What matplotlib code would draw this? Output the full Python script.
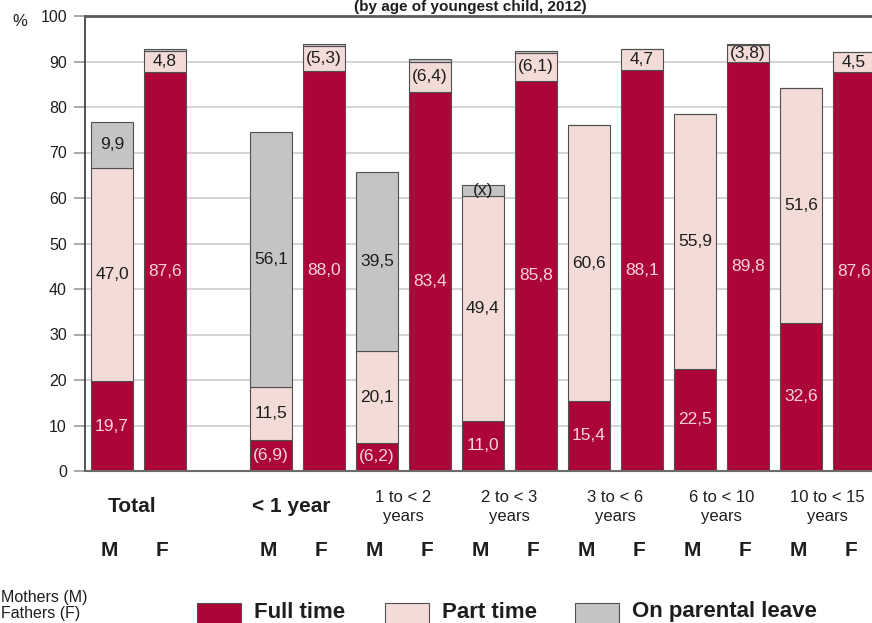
import matplotlib
matplotlib.use("Agg")
import matplotlib.pyplot as plt
from matplotlib.patches import Rectangle
from matplotlib.transforms import blended_transform_factory

plt.rcParams['font.family'] = ['Liberation Sans', 'DejaVu Sans']

# ---- data: employment of mothers (M) and fathers (F), by age of youngest child, 2012 (%)
groups = ["Total", "< 1 year", "1 to < 2\nyears", "2 to < 3\nyears",
          "3 to < 6\nyears", "6 to < 10\nyears", "10 to < 15\nyears"]
group_bold = [True, True, False, False, False, False, False]

mothers_full = [19.7, 6.9, 6.2, 11.0, 15.4, 22.5, 32.6]
mothers_part = [47.0, 11.5, 20.1, 49.4, 60.6, 55.9, 51.6]
mothers_leave = [9.9, 56.1, 39.5, 2.5, 0.0, 0.0, 0.0]

fathers_full = [87.6, 88.0, 83.4, 85.8, 88.1, 89.8, 87.6]
fathers_part = [4.8, 5.3, 6.4, 6.1, 4.7, 3.8, 4.5]
fathers_leave = [0.4, 0.5, 0.7, 0.4, 0.0, 0.3, 0.0]

# values of limited reliability are shown in brackets, suppressed ones as (x)
mothers_full_bracket = [False, True, True, False, False, False, False]
fathers_part_bracket = [False, True, True, True, False, True, False]
mothers_leave_suppressed = [False, False, False, True, False, False, False]

yticks = [0, 10, 20, 30, 40, 50, 60, 70, 80, 90, 100]
legend_labels = ["Full time", "Part time", "On parental leave"]

# ---- style
C_FULL = "#AC0638"
C_PART = "#F3DBD7"
C_LEAVE = "#C4C4C4"
EDGE = "#505050"
TXT_DARK = "#1e1e1e"
TXT_LIGHT = "#F9D3DE"

W, H = 872, 623
fig = plt.figure(figsize=(W / 100, H / 100), dpi=100)
ax = fig.add_axes([85 / W, 152 / H, 1 - 85 / W, 455 / H])

# bar slots: Total at 0/1, then one empty slot, then pairs
m_pos = [0] + [2 * i + 1 for i in range(1, len(groups))]
f_pos = [p + 1 for p in m_pos]
bw = 0.79


def fmt(v, bracket=False):
    s = f"{v:.1f}".replace(".", ",")
    return f"({s})" if bracket else s


def stack(pos, full, part, leave):
    ax.bar(pos, full, bw, color=C_FULL, edgecolor=EDGE, linewidth=0.8, zorder=2)
    ax.bar(pos, part, bw, bottom=full, color=C_PART, edgecolor=EDGE, linewidth=0.8, zorder=2)
    bottoms = [a + b for a, b in zip(full, part)]
    ax.bar(pos, leave, bw, bottom=bottoms, color=C_LEAVE, edgecolor=EDGE, linewidth=0.8, zorder=2)


stack(m_pos, mothers_full, mothers_part, mothers_leave)
stack(f_pos, fathers_full, fathers_part, fathers_leave)

vfs = 12.5
for i in range(len(groups)):
    x = m_pos[i]
    ax.text(x, mothers_full[i] / 2, fmt(mothers_full[i], mothers_full_bracket[i]),
            ha="center", va="center", color=TXT_LIGHT, fontsize=vfs, zorder=3)
    ax.text(x, mothers_full[i] + mothers_part[i] / 2, fmt(mothers_part[i]),
            ha="center", va="center", color=TXT_DARK, fontsize=vfs, zorder=3)
    if mothers_leave[i] > 0:
        lbl = "(x)" if mothers_leave_suppressed[i] else fmt(mothers_leave[i])
        ax.text(x, mothers_full[i] + mothers_part[i] + mothers_leave[i] / 2, lbl,
                ha="center", va="center", color=TXT_DARK, fontsize=vfs, zorder=3)
    x = f_pos[i]
    ax.text(x, fathers_full[i] / 2, fmt(fathers_full[i]),
            ha="center", va="center", color=TXT_LIGHT, fontsize=vfs, zorder=3)
    ax.text(x, fathers_full[i] + fathers_part[i] / 2, fmt(fathers_part[i], fathers_part_bracket[i]),
            ha="center", va="center", color=TXT_DARK, fontsize=vfs, zorder=3)

# ---- axes
ax.set_xlim(-0.509, 14.34)
ax.set_ylim(0, 100)
ax.set_yticks(yticks)
ax.set_yticklabels([str(t) for t in yticks], fontsize=11.5, color=TXT_DARK)
ax.tick_params(axis="y", length=8, width=1.2, color="#9a9a9a", pad=5)
ax.set_xticks([])
ax.yaxis.grid(True, color="#d2d2d2", linewidth=1.3)
ax.set_axisbelow(True)
ax.spines["right"].set_visible(False)
ax.spines["left"].set_color("#333333")
ax.spines["left"].set_linewidth(1.2)
ax.spines["top"].set_color("#5a5a5a")
ax.spines["top"].set_linewidth(2.0)
ax.spines["bottom"].set_color("#6a6a6a")
ax.spines["bottom"].set_linewidth(1.5)

fig.text(20 / W, 1 - 22 / H, "%", fontsize=12, ha="center", va="center", color=TXT_DARK)
fig.text(470 / W, 1 - 11 / H, "(by age of youngest child, 2012)", fontsize=11,
         fontweight="bold", ha="center", va="baseline", color=TXT_DARK)

# ---- category labels under the axis
tr = blended_transform_factory(ax.transData, fig.transFigure)
for i, g in enumerate(groups):
    xc = (m_pos[i] + f_pos[i]) / 2
    if group_bold[i]:
        ax.text(xc - 0.12, 1 - 506 / H, g, transform=tr, ha="center", va="center",
                fontsize=15, fontweight="bold", color=TXT_DARK, clip_on=False)
    else:
        ax.text(xc, 1 - 507 / H, g, transform=tr, ha="center", va="center",
                fontsize=12, color=TXT_DARK, linespacing=1.25, clip_on=False)
    ax.text(m_pos[i] - 0.05, 1 - 550 / H, "M", transform=tr, ha="center", va="center",
            fontsize=15, fontweight="bold", color=TXT_DARK, clip_on=False)
    ax.text(f_pos[i] - 0.05, 1 - 550 / H, "F", transform=tr, ha="center", va="center",
            fontsize=15, fontweight="bold", color=TXT_DARK, clip_on=False)

# ---- key
fig.text(1 / W, 1 - 602 / H, "Mothers (M)", fontsize=11.5, ha="left", va="baseline", color=TXT_DARK)
fig.text(1 / W, 1 - 618 / H, "Fathers (F)", fontsize=11.5, ha="left", va="baseline", color=TXT_DARK)

swatches = [(197, C_FULL), (385, C_PART), (575, C_LEAVE)]
for (sx, col), lab in zip(swatches, legend_labels):
    fig.add_artist(Rectangle((sx / W, 1 - 626 / H), 44 / W, 23 / H, transform=fig.transFigure,
                             facecolor=col, edgecolor=EDGE, linewidth=0.8))
    fig.text((sx + 57) / W, 1 - 612 / H, lab, fontsize=16, fontweight="bold",
             ha="left", va="center", color=TXT_DARK)

fig.savefig("out.png", dpi=100)
